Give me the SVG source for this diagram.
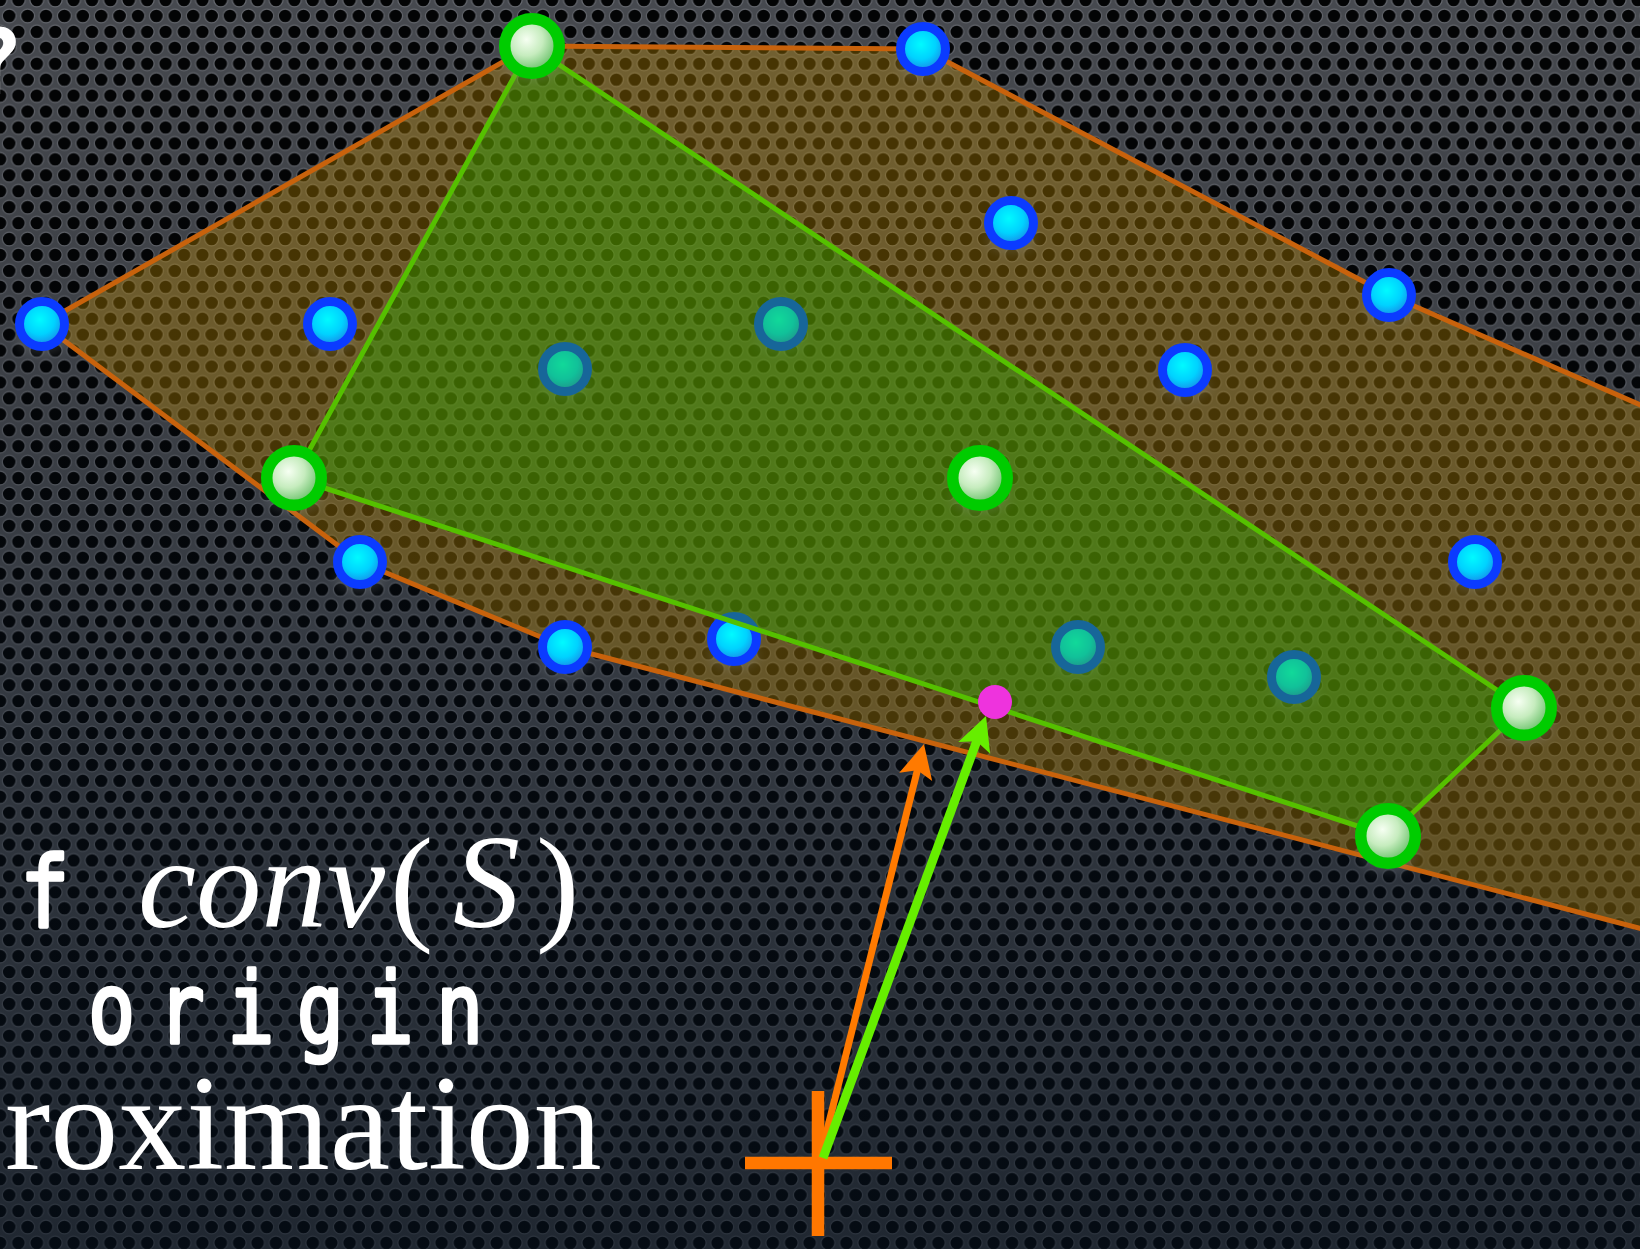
<svg xmlns="http://www.w3.org/2000/svg" xmlns:xlink="http://www.w3.org/1999/xlink" width="1640" height="1249" viewBox="0 0 1640 1249">
<defs>
  <pattern id="holes" width="18.4" height="31.87" patternUnits="userSpaceOnUse">
    <rect width="18.4" height="31.87" fill="#4a4d53"/>
    <g fill="#030405" stroke="#6a6d74" stroke-width="1.2">
      <circle cx="0" cy="0" r="6.9"/>
      <circle cx="18.4" cy="0" r="6.9"/>
      <circle cx="9.2" cy="15.93" r="6.9"/>
      <circle cx="0" cy="31.87" r="6.9"/>
      <circle cx="18.4" cy="31.87" r="6.9"/>
    </g>
  </pattern>
  <linearGradient id="vign" x1="0" y1="0" x2="0" y2="1">
    <stop offset="0" stop-color="#000000" stop-opacity="0.05"/>
    <stop offset="0.5" stop-color="#06101c" stop-opacity="0.3"/>
    <stop offset="1" stop-color="#06101c" stop-opacity="0.62"/>
  </linearGradient>
  <radialGradient id="gBlue" cx="0.45" cy="0.4" r="0.6">
    <stop offset="0" stop-color="#00faff"/>
    <stop offset="0.55" stop-color="#00d2ff"/>
    <stop offset="1" stop-color="#1a84e6"/>
  </radialGradient>
  <radialGradient id="gGreen" cx="0.4" cy="0.38" r="0.6">
    <stop offset="0" stop-color="#f6fff2"/>
    <stop offset="0.5" stop-color="#c6ecbe"/>
    <stop offset="1" stop-color="#68c068"/>
  </radialGradient>
  <filter id="soft" x="-60%" y="-60%" width="220%" height="220%">
    <feGaussianBlur stdDeviation="6"/>
  </filter>
  <marker id="headOrange" viewBox="-16 -18 38 36" refX="0" refY="0" markerWidth="38" markerHeight="36" markerUnits="userSpaceOnUse" orient="auto">
    <path d="M20,0 L-14,-17 L-7,0 L-14,17 Z" fill="#ff7a00"/>
  </marker>
  <marker id="headGreen" viewBox="-16 -18 38 36" refX="0" refY="0" markerWidth="38" markerHeight="36" markerUnits="userSpaceOnUse" orient="auto">
    <path d="M20,0 L-14,-17 L-7,0 L-14,17 Z" fill="#66ee00"/>
  </marker>
  <g id="tplBlue">
    <ellipse class="shadow" cx="0" cy="17" rx="24" ry="13"/>
    <circle r="22.5" fill="url(#gBlue)" stroke="#0b3bff" stroke-width="9"/>
  </g>
  <g id="tplGreen">
    <ellipse class="shadow" cx="0" cy="20" rx="28" ry="15"/>
    <circle r="27.25" fill="url(#gGreen)" stroke="#00cc00" stroke-width="11.5"/>
  </g>
</defs>
<style>
  .shadow { fill: #a0a6a8; opacity: 0.22; filter: url(#soft); }
  .hullO { fill: #c08a00; fill-opacity: 0.36; stroke: #c8620c; stroke-width: 5; stroke-linejoin: round; }
  .hullG { fill: #2aa800; fill-opacity: 0.4; stroke: #55c000; stroke-width: 5; stroke-linejoin: round; }
  .mono { font-family: "DejaVu Sans Mono", "Liberation Mono", monospace; fill: #ffffff; stroke: #ffffff; stroke-width: 3.6; stroke-linejoin: round; }
  .monoB { font-family: "DejaVu Sans Mono", "Liberation Mono", monospace; fill: #ffffff; font-weight: bold; }
  .serif { font-family: "Liberation Serif", "DejaVu Serif", serif; fill: #ffffff; }
</style>

<rect width="1640" height="1249" fill="url(#holes)"/>
<rect width="1640" height="1249" fill="url(#vign)"/>

<g id="hull-S">
  <polygon class="hullO" points="42,324 531,46 923,49 1389,295 1700,431 1700,944 565,647 360,562"/>
</g>

<g id="points-blue">
  <g id="b1"><use xlink:href="#tplBlue" x="42" y="324"/></g>
  <g id="b2"><use xlink:href="#tplBlue" x="330" y="324"/></g>
  <g id="b3"><use xlink:href="#tplBlue" x="923" y="49"/></g>
  <g id="b4"><use xlink:href="#tplBlue" x="1011" y="223"/></g>
  <g id="b5"><use xlink:href="#tplBlue" x="1389" y="295"/></g>
  <g id="b6"><use xlink:href="#tplBlue" x="1185" y="370"/></g>
  <g id="b7"><use xlink:href="#tplBlue" x="360" y="562"/></g>
  <g id="b8"><use xlink:href="#tplBlue" x="565" y="647"/></g>
  <g id="b9"><use xlink:href="#tplBlue" x="734" y="639"/></g>
  <g id="b10"><use xlink:href="#tplBlue" x="1475" y="562"/></g>
  <g id="b11"><use xlink:href="#tplBlue" x="565" y="369"/></g>
  <g id="b12"><use xlink:href="#tplBlue" x="781" y="324"/></g>
  <g id="b13"><use xlink:href="#tplBlue" x="1078" y="647"/></g>
  <g id="b14"><use xlink:href="#tplBlue" x="1294" y="677"/></g>
</g>

<g id="hull-approx">
  <polygon class="hullG" points="531,46 1524,708 1388,836 294,478"/>
</g>

<g id="points-green">
  <g id="g1"><use xlink:href="#tplGreen" x="532" y="46"/></g>
  <g id="g2"><use xlink:href="#tplGreen" x="294" y="478"/></g>
  <g id="g3"><use xlink:href="#tplGreen" x="980" y="478"/></g>
  <g id="g4"><use xlink:href="#tplGreen" x="1524" y="708"/></g>
  <g id="g5"><use xlink:href="#tplGreen" x="1388" y="836"/></g>
</g>

<g id="closest-point">
  <circle cx="995" cy="702" r="17" fill="#ee33dd"/>
</g>

<g id="origin">
  <line x1="818" y1="1091" x2="818" y2="1236" stroke="#ff7700" stroke-width="12.5"/>
  <line x1="745" y1="1163" x2="892" y2="1163" stroke="#ff7700" stroke-width="12.5"/>
</g>

<g id="connectors">
  <line x1="820" y1="1158" x2="919.1" y2="763.4" stroke="#ff7a00" stroke-width="7" marker-end="url(#headOrange)"/>
  <line x1="823" y1="1158" x2="979.1" y2="734.8" stroke="#66ee00" stroke-width="9" marker-end="url(#headGreen)"/>
</g>

<g id="texts">
  <text class="monoB" x="-31" y="94" font-size="90">?</text>
  <text class="mono" transform="translate(20,927) scale(0.84,1)" font-size="98">f</text>
  <text class="serif" x="138" y="927" font-size="130" font-style="italic" textLength="247" lengthAdjust="spacingAndGlyphs">conv</text>
  <text class="serif" x="390" y="927" font-size="130">(</text>
  <text class="serif" x="453" y="927" font-size="134" font-style="italic">S</text>
  <text class="serif" x="536" y="927" font-size="130">)</text>
  <text class="mono" transform="translate(88,1043) scale(0.8,1)" font-size="98" letter-spacing="28">origin</text>
  <text class="serif" x="5" y="1169" font-size="136">roximation</text>
</g>
</svg>
